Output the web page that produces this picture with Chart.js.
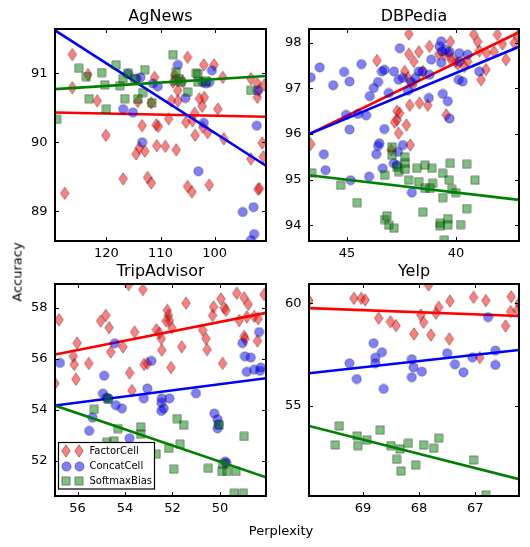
<!DOCTYPE html>
<html><head><meta charset="utf-8">
<script src="https://cdn.jsdelivr.net/npm/chart.js@4.4.0/dist/chart.umd.min.js"></script>
<style>
html,body{margin:0;padding:0;background:#fff;width:530px;height:547px;overflow:hidden;position:relative;}
canvas{position:absolute;}
.lbl{position:absolute;font-family:'DejaVu Sans',sans-serif;font-size:13px;color:#000;white-space:nowrap;}
</style></head><body>
<canvas id="cA" width="272" height="266" style="left:0px;top:0px"></canvas>
<canvas id="cB" width="256" height="266" style="left:269px;top:0px"></canvas>
<canvas id="cC" width="272" height="266" style="left:0px;top:255px"></canvas>
<canvas id="cD" width="256" height="266" style="left:269px;top:255px"></canvas>
<div class="lbl" style="left:17px;top:272px;transform:translate(-50%,-50%) rotate(-90deg);">Accuracy</div>
<div class="lbl" style="left:281px;top:530px;transform:translate(-50%,-50%);">Perplexity</div>
<script>
// ---------------- DATA ----------------
const seriesNames = ['FactorCell', 'ConcatCell', 'SoftmaxBias'];
const panelTitles = ['AgNews', 'DBPedia', 'TripAdvisor', 'Yelp'];

// AgNews
const agnewsFactor = [[126.3,91.27],[123.4,90.98],[126.3,90.79],[121.7,90.60],[120.1,90.10],[113.4,90.24],[111.7,90.57],[114.2,90.59],[110.8,90.25],[110.4,90.23],[111.1,90.94],[127.7,89.26],
 [105.0,91.23],[102.0,91.12],[100.1,91.12],[98.5,90.94],[93.3,90.92],[92.1,90.85],[91.8,90.75],[92.1,90.65],[90.8,90.83],[107.4,90.97],[107.7,90.87],[106.8,90.75],[106.8,90.60],[108.0,90.60],[105.9,90.88],[102.8,90.63],[101.9,90.65],[102.3,90.52],[99.4,90.48],[103.7,90.42],[104.1,90.31],[105.3,90.29],[108.5,90.34],[102.2,90.22],[101.3,90.14],
 [116.9,89.47],[114.5,89.83],[113.9,89.92],[112.9,89.87],[112.4,89.49],[111.7,89.41],[110.7,89.95],[109.1,89.94],[107.1,89.89],[105.0,89.36],[104.2,89.28],[101.0,89.38],[103.6,90.10],[98.3,90.05],[93.3,89.76],[91.0,89.79],[91.2,89.99],[92.0,89.32],[91.7,89.33]];
const agnewsConcat = [[116.0,90.99],[113.7,90.94],[114.5,90.92],[111.4,90.85],[110.5,90.81],[116.9,90.48],[115.1,90.43],[106.8,91.12],[100.5,91.04],[101.6,90.85],[102.2,90.87],[101.0,90.87],[105.4,90.64],[92.1,90.75],[102.0,90.28],[92.2,90.24],[113.4,90.00],[103.0,89.58],[94.8,88.99],[92.8,89.06],[92.7,88.67],[93.3,88.58]];
const agnewsSoftmax = [[125.1,91.07],[123.7,90.95],[120.9,91.01],[118.2,91.12],[120.3,90.83],[117.5,90.82],[116.9,90.92],[116.0,91.00],[112.9,91.05],[123.2,90.63],[116.6,90.63],[120.0,90.48],[129.2,90.33],[113.3,90.72],[114.2,90.63],[111.6,90.57],[114.8,90.92],
 [107.7,91.27],[107.1,91.02],[103.4,91.00],[103.1,90.99],[106.6,90.92],[107.2,90.89],[106.2,90.87],[105.0,90.73],[103.1,90.87],[101.6,90.89],[93.3,90.75]];
const agnewsFits = [[[129.5,90.43],[90.5,90.37]], [[129.5,91.62],[90.5,89.66]], [[129.5,90.77],[90.5,90.96]]];
const agnewsXRange = [90.5, 129.5], agnewsYRange = [88.57, 91.64];
const agnewsXTicks = [100, 110, 120], agnewsYTicks = [89, 90, 91];

// DBPedia
const dbpediaFactor = [[43.63,97.61],[42.71,96.31],[42.71,96.50],[42.17,98.19],[41.22,97.92],[41.71,97.80],[42.17,97.75],[41.94,97.59],[40.26,98.02],[40.53,97.74],[40.30,97.74],[40.23,97.63],[40.03,97.59],[39.19,98.18],[39.01,98.02],[38.93,97.82],[38.60,97.77],[38.25,97.80],[38.10,98.18],[37.87,97.97],[37.71,97.63],[37.33,97.99],[37.18,98.14],[38.63,97.41],[38.85,97.19],[39.47,97.59],[39.62,97.48],[39.92,97.53],
 [42.36,97.37],[41.98,97.08],[42.21,97.23],[41.52,97.37],[42.59,96.46],[42.13,96.63],[41.68,96.68],[41.30,96.63],[42.82,96.26],[42.28,96.20],[40.45,96.42],[40.79,97.75],[42.64,96.02],[42.10,95.76],[46.67,95.78],[42.97,95.65]];
const dbpediaConcat = [[46.67,97.24],[46.26,97.46],[45.64,97.07],[45.14,97.36],[44.89,97.15],[44.34,97.53],[43.96,96.83],[43.78,97.01],[43.58,97.14],[43.40,97.37],[43.29,97.41],[42.85,97.37],[43.09,96.90],[42.64,97.19],[42.58,97.88],[45.05,96.42],[44.50,96.44],[44.13,96.41],[44.89,96.10],[43.29,96.11],
 [42.44,97.23],[42.06,97.14],[41.71,97.37],[41.55,97.37],[41.22,97.30],[41.14,97.63],[40.68,97.56],[39.85,97.59],[38.93,97.37],[39.88,97.19],[39.70,97.15],[40.61,96.88],[40.38,96.72],[41.25,96.79],[40.30,96.34],[42.21,96.95],[41.86,97.23],[40.68,98.03],[40.76,97.92],[40.64,97.81],[40.49,97.85],[40.30,97.80],[39.85,97.77],[39.47,97.74],
 [46.07,95.56],[45.99,95.21],[44.84,94.99],[43.99,95.07],[43.52,95.80],[43.58,95.74],[43.66,95.56],[43.37,95.25],[42.86,95.36],[42.67,95.61],[42.44,95.76],[42.71,95.32],[42.03,94.72]];
const dbpediaSoftmax = [[46.63,95.15],[45.30,94.88],[44.54,94.50],[43.28,95.10],[42.94,95.72],[42.94,95.54],[42.36,95.50],[42.33,95.36],[42.71,95.27],[42.64,95.18],[42.33,95.23],[42.18,94.99],[41.80,95.25],[41.72,94.96],[41.42,95.32],[41.11,95.25],[41.08,94.92],[41.42,94.81],[41.19,94.81],[40.62,95.14],[40.27,95.36],[40.32,94.99],[40.20,94.79],[40.02,94.72],[40.61,94.61],[39.51,95.34],[39.13,94.99],[39.51,94.37],[41.52,94.29],[43.28,94.13],[43.17,94.21],[43.09,94.01],[42.85,93.94],[40.73,93.99],[40.73,94.05],[40.38,94.15],[40.38,94.01],[39.79,94.02],[40.53,93.68]];
const dbpediaFits = [[[46.75,96.0],[37.11,98.23]], [[46.75,96.0],[37.11,97.91]], [[46.75,95.10],[37.11,94.56]]];
const dbpediaXRange = [37.11, 46.75], dbpediaYRange = [93.66, 98.30];
const dbpediaXTicks = [40, 45], dbpediaYTicks = [94, 95, 96, 97, 98];

// TripAdvisor
const tripFactor = [[56.78,57.53],[56.95,55.04],[56.02,56.62],[56.18,56.10],[56.14,55.78],[56.07,55.20],[55.53,55.82],[55.03,57.48],[54.81,57.70],[54.67,57.22],[54.60,56.27],[54.09,56.47],[53.81,55.45],[53.60,57.05],[53.85,58.91],[53.25,58.71],[53.06,55.82],[53.20,55.78],[52.68,57.14],[52.55,57.01],[52.47,56.79],[52.45,56.34],[52.22,57.90],[52.17,57.70],[52.13,57.50],[52.27,57.48],[52.03,57.22],[52.06,55.66],[51.61,56.47],[51.43,58.18],[50.73,57.12],[50.59,56.79],[50.54,56.36],[50.27,58.03],[50.31,57.70],[49.96,58.35],[49.82,58.00],[49.75,57.90],[49.89,55.82],[49.29,58.57],[48.98,58.39],[48.81,58.13],[49.19,57.50],[48.87,57.64],[48.56,57.66],[48.39,57.57],[48.14,58.52],[48.98,56.88],[48.95,56.78],[48.42,56.70],[53.71,54.76]];
const tripConcat = [[56.74,55.84],[54.43,56.61],[54.88,55.34],[52.89,55.92],[53.06,54.84],[49.05,56.62],[48.95,56.10],[48.70,56.05],[48.87,55.49],[48.56,55.58],[48.31,55.53],[48.28,55.66],[48.35,57.05],
 [54.93,54.64],[54.78,54.48],[54.70,54.44],[54.39,54.19],[54.13,54.06],[53.21,54.45],[52.45,54.45],[52.13,54.45],[52.47,54.28],[52.37,54.06],[52.47,53.96],[51.01,54.65],[50.24,53.86],[50.10,53.63],[50.06,53.44],[50.10,53.28],[55.51,53.18],[53.81,52.89],[49.78,51.98],[49.74,51.92],[55.37,53.70]];
const tripSoftmax = [[55.30,54.02],[54.72,54.41],[54.30,53.27],[53.34,53.33],[53.34,53.05],[51.80,53.66],[51.53,53.40],[51.68,52.66],[52.16,52.49],[52.68,52.27],[51.95,51.68],[50.49,51.71],[50.03,53.41],[48.98,52.96],[49.89,51.88],[49.92,51.59],[49.71,51.59],[49.33,51.59],[49.40,50.74],[49.01,50.74],[54.78,52.73],[54.46,52.79]];
const tripFits = [[[56.95,56.17],[48.06,57.80]], [[56.95,54.17],[48.06,55.24]], [[56.95,54.17],[48.06,51.36]]];
const tripXRange = [48.06, 56.95], tripYRange = [50.63, 58.93];
const tripXTicks = [50, 52, 54, 56], tripYTicks = [52, 54, 56, 58];

// Yelp
const yelpFactor = [[69.96,60.13],[69.16,60.24],[69.03,60.24],[68.96,60.16],[68.72,59.27],[68.51,59.10],[68.41,58.91],[68.09,58.50],[67.97,59.43],[67.92,59.07],[67.83,60.89],[67.79,58.45],[67.70,59.51],[67.65,59.80],[67.45,60.11],[67.46,58.26],[67.03,60.29],[66.92,57.35],[66.81,60.13],[66.46,58.89],[66.36,60.32],[66.37,59.59],[66.25,59.67],[66.22,60.0]];
const yelpConcat = [[69.24,57.07],[69.11,56.30],[68.81,58.05],[68.78,57.34],[68.78,57.07],[68.66,57.61],[68.63,55.82],[68.13,57.27],[68.10,56.87],[68.13,56.39],[67.95,56.66],[67.50,57.56],[67.36,57.02],[67.21,56.63],[67.05,57.36],[66.77,59.32],[66.64,57.69],[66.64,56.99]];
const yelpSoftmax = [[69.42,54.01],[69.49,53.08],[69.10,53.52],[69.09,53.05],[68.93,53.33],[68.69,53.81],[68.50,53.05],[68.34,52.89],[68.40,52.38],[68.32,51.81],[68.19,53.16],[68.06,52.10],[67.92,53.08],[67.74,52.92],[67.65,53.41],[67.03,52.35],[66.81,50.64]];
const yelpFits = [[[69.96,59.76],[66.22,59.38]], [[69.96,56.58],[66.22,57.72]], [[69.96,54.01],[66.22,51.41]]];
const yelpXRange = [66.22, 69.96], yelpYRange = [50.59, 60.94];
const yelpXTicks = [67, 68, 69], yelpYTicks = [55, 60];

// ---------------- STYLE ----------------
Chart.defaults.font.family = "'DejaVu Sans', sans-serif";
Chart.defaults.color = '#000';

function mk(w, h, draw) { const c = document.createElement('canvas'); c.width = w; c.height = h; draw(c.getContext('2d')); return c; }
const edge = 'rgba(0,0,0,0.45)';
const diamondImg = mk(10, 14, g => { g.beginPath(); g.moveTo(5, 0.8); g.lineTo(9.3, 7); g.lineTo(5, 13.2); g.lineTo(0.7, 7); g.closePath();
  g.fillStyle = 'rgba(255,0,0,0.5)'; g.fill(); g.strokeStyle = edge; g.lineWidth = 0.8; g.stroke(); });
const circleImg = mk(11, 11, g => { g.beginPath(); g.arc(5.5, 5.5, 4.6, 0, Math.PI * 2);
  g.fillStyle = 'rgba(0,0,255,0.5)'; g.fill(); g.strokeStyle = edge; g.lineWidth = 0.8; g.stroke(); });
const squareImg = mk(10, 10, g => { g.beginPath(); g.rect(0.9, 0.9, 8.2, 8.2);
  g.fillStyle = 'rgba(0,128,0,0.5)'; g.fill(); g.strokeStyle = edge; g.lineWidth = 0.8; g.stroke(); });
const markerImgs = [diamondImg, circleImg, squareImg];
const lineColors = ['#ff0000', '#0000ff', '#008000'];

const framePlugin = {
  id: 'frame',
  afterDraw(chart, args, opts) {
    const ctx = chart.ctx, a = chart.chartArea, xs = chart.scales.x, ys = chart.scales.y;
    ctx.save();
    ctx.strokeStyle = '#000'; ctx.lineWidth = 1;
    ctx.beginPath();
    xs.ticks.forEach(t => { const p = Math.round(xs.getPixelForValue(t.value)) + 0.5;
      ctx.moveTo(p, a.top); ctx.lineTo(p, a.top + 4); ctx.moveTo(p, a.bottom); ctx.lineTo(p, a.bottom - 4); });
    ys.ticks.forEach(t => { const p = Math.round(ys.getPixelForValue(t.value)) + 0.5;
      ctx.moveTo(a.left, p); ctx.lineTo(a.left + 4, p); ctx.moveTo(a.right, p); ctx.lineTo(a.right - 4, p); });
    ctx.stroke();
    ctx.lineWidth = 2;
    ctx.strokeRect(a.left, a.top, a.right - a.left, a.bottom - a.top);
    if (opts.legend) {
      const bx = a.left + 3.5, bh = 46.5, by = a.bottom - 7 - bh, bw = 96;
      ctx.fillStyle = '#fff'; ctx.fillRect(bx, by, bw, bh);
      ctx.lineWidth = 1.2; ctx.strokeStyle = '#000'; ctx.strokeRect(bx, by, bw, bh);
      ctx.font = "10px 'DejaVu Sans', sans-serif"; ctx.fillStyle = '#000'; ctx.textBaseline = 'middle'; ctx.textAlign = 'left';
      chart.data.datasets.filter(d => d.legendEntry).forEach((d, i) => {
        const yc = by + 8.5 + i * 15.2;
        const img = d.pointStyle;
        [7.5, 20.8].forEach(dx => ctx.drawImage(img, Math.round(bx + dx - img.width / 2), Math.round(yc - img.height / 2)));
        ctx.fillText(d.label, bx + 31, yc);
      });
    }
    ctx.restore();
  }
};

function toXY(arr) { return arr.map(p => ({ x: p[0], y: p[1] })); }

function makePanel(id, title, series, fits, xr, yr, xt, yt, yAxisW, legend) {
  const datasets = [];
  let order = 10;
  series.forEach((s, i) => {
    datasets.push({ label: seriesNames[i], legendEntry: true, data: toXY(s), pointStyle: markerImgs[i], pointRadius: 5, clip: 0, order: order-- });
    datasets.push({ label: seriesNames[i] + ' fit', data: toXY(fits[i]), showLine: true, pointRadius: 0, borderColor: lineColors[i], borderWidth: 2.6, clip: 0, order: order-- });
  });
  return new Chart(document.getElementById(id), {
    type: 'scatter',
    data: { datasets },
    plugins: [framePlugin],
    options: {
      responsive: false, animation: false, events: [],
      layout: { padding: { left: 0, right: 5, top: 0, bottom: 0 } },
      plugins: {
        legend: { display: false }, tooltip: { enabled: false },
        title: { display: true, text: title, fullSize: false, color: '#000', font: { size: 16, weight: 'normal' }, padding: { top: 7.5, bottom: 2.3 } },
        frame: { legend }
      },
      scales: {
        x: { type: 'linear', reverse: true, min: xr[0], max: xr[1],
          afterBuildTicks: s => { s.ticks = xt.map(v => ({ value: v })); },
          afterFit: s => { s.height = 25; },
          grid: { display: false, drawTicks: false }, border: { display: false },
          ticks: { autoSkip: false, maxRotation: 0, padding: 5, color: '#000', font: { size: 13 }, callback: v => String(v) } },
        y: { type: 'linear', min: yr[0], max: yr[1],
          afterBuildTicks: s => { s.ticks = yt.map(v => ({ value: v })); },
          afterFit: s => { s.width = yAxisW; },
          grid: { display: false, drawTicks: false }, border: { display: false },
          ticks: { autoSkip: false, padding: 7.5, color: '#000', font: { size: 13 }, callback: v => String(v) } }
      }
    }
  });
}

makePanel('cA', panelTitles[0], [agnewsFactor, agnewsConcat, agnewsSoftmax], agnewsFits, agnewsXRange, agnewsYRange, agnewsXTicks, agnewsYTicks, 55, false);
makePanel('cB', panelTitles[1], [dbpediaFactor, dbpediaConcat, dbpediaSoftmax], dbpediaFits, dbpediaXRange, dbpediaYRange, dbpediaXTicks, dbpediaYTicks, 40, false);
makePanel('cC', panelTitles[2], [tripFactor, tripConcat, tripSoftmax], tripFits, tripXRange, tripYRange, tripXTicks, tripYTicks, 55, true);
makePanel('cD', panelTitles[3], [yelpFactor, yelpConcat, yelpSoftmax], yelpFits, yelpXRange, yelpYRange, yelpXTicks, yelpYTicks, 40, false);
</script>
</body></html>
